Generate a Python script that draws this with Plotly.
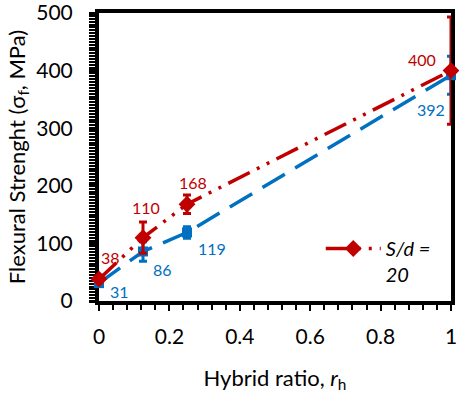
import plotly.graph_objects as go

x_vals = [0, 0.125, 0.25, 1]
red_vals = [38, 110, 168, 400]
red_err = [5, 27, 16, 93]
blue_vals = [31, 86, 119, 392]
blue_err = [4, 17, 10, 33]
red_label_pos = [(0.034, 76), (0.134, 162), (0.268, 205), (0.917, 420)]
blue_label_pos = [(0.057, 17), (0.179, 55), (0.322, 92), (0.943, 333)]
x_ticks = [0, 0.2, 0.4, 0.6, 0.8, 1]
x_tick_text = ["0", "0.2", "0.4", "0.6", "0.8", "1"]
y_ticks = [0, 100, 200, 300, 400, 500]

RED = "#C00000"
BLUE = "#0070C0"
FONT = "Lato"

fig = go.Figure()

fig.add_trace(go.Scatter(
    x=x_vals, y=blue_vals, mode="lines+markers",
    line=dict(color=BLUE, width=3.5, dash="26px,12px"),
    marker=dict(symbol="square", size=10, color=BLUE),
    error_y=dict(type="data", array=blue_err, color=BLUE, thickness=3, width=4),
    showlegend=False, cliponaxis=False,
))
fig.add_trace(go.Scatter(
    x=x_vals, y=red_vals, mode="lines+markers",
    name="<i>S/d =</i><br><i>20</i>",
    line=dict(color=RED, width=3.5, dash="24px,8px,3px,8px,3px,8px"),
    marker=dict(symbol="diamond", size=13, color=RED),
    error_y=dict(type="data", array=red_err, color=RED, thickness=3, width=4),
    showlegend=True, cliponaxis=False,
))

for (px, py), v in zip(red_label_pos, red_vals):
    fig.add_annotation(x=px, y=py, text=str(v), showarrow=False,
                       font=dict(family=FONT, size=16, color=RED))
for (px, py), v in zip(blue_label_pos, blue_vals):
    fig.add_annotation(x=px, y=py, text=str(v), showarrow=False,
                       font=dict(family=FONT, size=16, color=BLUE))

fig.update_layout(
    width=459, height=398,
    margin=dict(l=99, r=8, t=13, b=97),
    plot_bgcolor="white", paper_bgcolor="white",
    font=dict(family=FONT, size=20, color="black"),
    legend=dict(x=0.63, y=0.25, xanchor="left", yanchor="top",
                bgcolor="rgba(0,0,0,0)", valign="top",
                font=dict(family=FONT, size=20, color="black"),
                itemwidth=55),
    xaxis=dict(
        range=[0, 1], tickvals=x_ticks, ticktext=x_tick_text,
        automargin=False, ticklabeloverflow="allow",
        showgrid=False, zeroline=False,
        showline=True, linecolor="black", linewidth=4, mirror=True,
        ticks="outside", ticklen=6, tickwidth=2, tickcolor="black",
        minor=dict(dtick=0.04, ticks="outside", ticklen=5, tickwidth=1.5, tickcolor="black"),
        tickfont=dict(family=FONT, size=21),
        ticklabelstandoff=8,
        title=dict(text="Hybrid ratio, <i>r</i><sub>h</sub>", standoff=24,
                   font=dict(family=FONT, size=22)),
        layer="below traces",
    ),
    yaxis=dict(
        range=[0, 500], tickvals=y_ticks,
        automargin=False, ticklabeloverflow="allow",
        showgrid=False, zeroline=False,
        showline=True, linecolor="black", linewidth=4, mirror=True,
        ticks="outside", ticklen=6, tickwidth=2.5, tickcolor="black",
        minor=dict(dtick=5, ticks="outside", ticklen=6, tickwidth=2, tickcolor="black"),
        tickfont=dict(family=FONT, size=21),
        ticklabelstandoff=12,
        title=dict(text="Flexural Strenght (σ<sub>f</sub>, MPa)", standoff=6,
                   font=dict(family=FONT, size=22)),
        layer="below traces",
    ),
)

fig.write_html(
    "out.html",
    config={"displayModeBar": False},
    post_script="document.body.style.margin='0';document.body.style.overflow='hidden';",
)
